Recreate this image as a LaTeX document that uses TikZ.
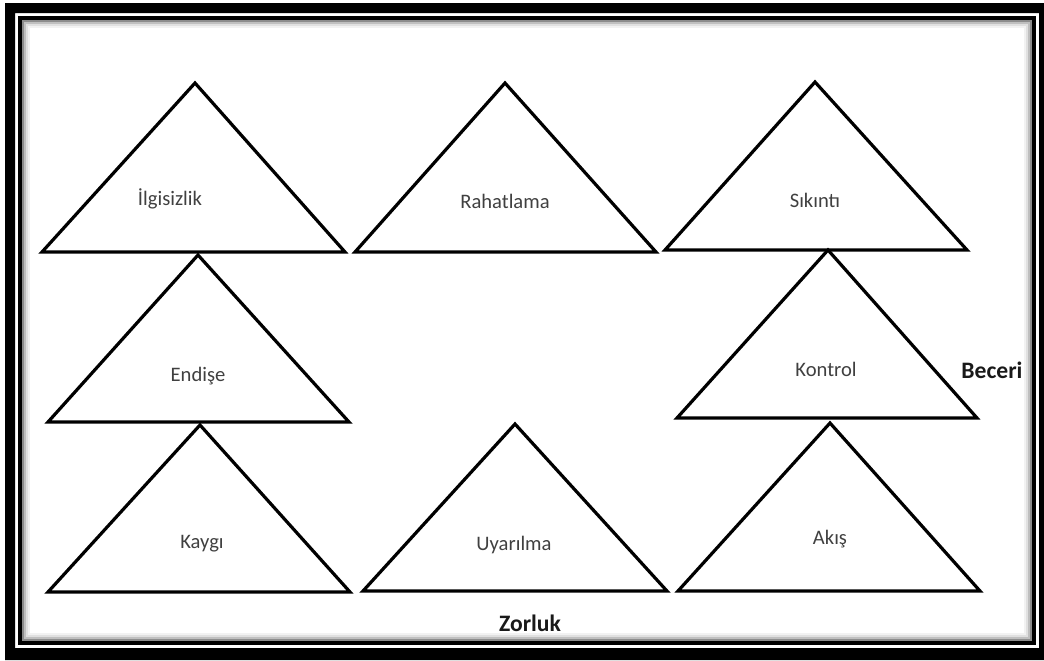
\documentclass[tikz,border=0pt]{standalone}
\usepackage{fontspec}
\setmainfont{Carlito}
\usepackage{xcolor}
\usetikzlibrary{positioning}

\begin{document}
\begin{tikzpicture}[
    x=0.5pt, y=-0.5pt,
    every node/.style={font=\fontsize{10.3}{12}\selectfont, text=black!75},
    tri/.style={draw=black, line width=1.6pt, line join=miter},
    axis/.style={font=\fontsize{11.8}{14}\selectfont\bfseries, text=black!90},
    shade/.style={draw=black, line width=1pt}
]
\useasboundingbox (0,0) rectangle (1044,660);
% frame
\fill[black, even odd rule] (5,3) rectangle (1044,660) (15,13) rectangle (1039,648);
\draw[line width=2pt] (20,17.5) rectangle (1033.5,642.5);
\draw[shade, draw opacity=0.45] (23,20.5) rectangle (1030.5,639.5);
\draw[shade, draw opacity=0.25] (25,22.5) rectangle (1028.5,637.5);
\draw[shade, draw opacity=0.12] (27,24.5) rectangle (1026.5,635.5);
\draw[shade, draw opacity=0.05] (29,26.5) rectangle (1024.5,633.5);

% first row
\draw[tri] (195,83) -- (345,252) -- (42,252) -- cycle;
\draw[tri] (505,83) -- (656,252) -- (355,252) -- cycle;
\draw[tri] (815,82) -- (967,250) -- (665,250) -- cycle;
% second row
\draw[tri] (198,255) -- (349,422) -- (48,422) -- cycle;
\draw[tri] (828,250) -- (977,418) -- (677,418) -- cycle;
% third row
\draw[tri] (200,425) -- (350,592) -- (48,592) -- cycle;
\draw[tri] (515,424) -- (667,591) -- (363,591) -- cycle;
\draw[tri] (830,423) -- (980,591) -- (678,591) -- cycle;

% labels
\node (ilgisizlik) at (170,199) {İlgisizlik};
\node (rahatlama) at (505,201) {Rahatlama};
\node (sikinti) at (815,200) {Sıkıntı};
\node (endise) at (198,376) {Endişe};
\node (kontrol) at (826,369) {Kontrol};
\node (kaygi) at (202,544) {Kaygı};
\node (uyarilma) at (514,545) {Uyarılma};
\node (akis) at (830,539) {Akış};
\node[axis] (beceri) at (992,370) {Beceri};
\node[axis] (zorluk) at (530,623) {Zorluk};
\end{tikzpicture}
\end{document}
